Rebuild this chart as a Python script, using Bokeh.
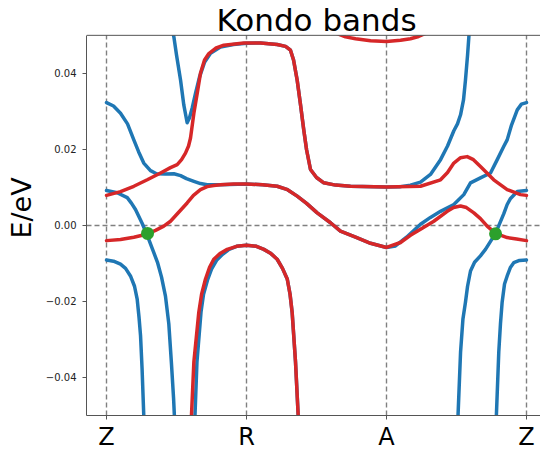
from bokeh.plotting import figure
from bokeh.models import FixedTicker, Label, Range1d, BoxAnnotation, Span
from bokeh.embed import file_html
from bokeh.resources import INLINE

# ---- data (k-path coordinate, energy in eV) ----
x_ticks = [0, 1, 2, 3]
x_tick_labels = ["Z", "R", "A", "Z"]
y_ticks = [-0.04, -0.02, 0.0, 0.02, 0.04]
y_tick_labels = ["\u22120.04", "\u22120.02", "0.00", "0.02", "0.04"]
e_min, e_max = -0.05, 0.05

# blue band: Z(0.032) -> R -> A -> Z(0.032)
blue1_k = [0, 0.05, 0.1, 0.15, 0.195, 0.229, 0.266, 0.314, 0.357, 0.421, 0.481, 0.529, 0.571, 0.624,
           0.671, 0.719, 0.814, 1.0, 1.114, 1.219, 1.293, 1.362, 1.429, 1.505, 1.6, 1.671, 1.779, 1.886,
           2.0, 2.064, 2.143, 2.243, 2.314, 2.386, 2.481, 2.552, 2.6, 2.671, 2.743, 2.791, 2.838, 2.862,
           2.893, 2.934, 2.964, 3.0]
blue1_e = [0.0323, 0.0314, 0.0295, 0.0267, 0.0225, 0.0194, 0.0164, 0.0144, 0.0136, 0.0135, 0.0136,
           0.0131, 0.0123, 0.0116, 0.0110, 0.0107, 0.0107, 0.0109, 0.0107, 0.0103, 0.0094, 0.0077,
           0.0058, 0.0033, 0.0007, -0.0015, -0.0031, -0.0047, -0.0058, -0.0054, -0.0031, 0.0003,
           0.0021, 0.0037, 0.0055, 0.0081, 0.0112, 0.0125, 0.0138, 0.0173, 0.0208, 0.0225, 0.0264,
           0.0304, 0.0319, 0.0323]

# blue band: top-left dip -> R plateau -> flat -> rising near A-Z
blue2_k = [0.471, 0.481, 0.5, 0.529, 0.552, 0.576, 0.593, 0.612, 0.636, 0.664, 0.7, 0.743, 0.814,
           0.907, 1.0, 1.1, 1.219, 1.279, 1.314, 1.336, 1.362, 1.386, 1.409, 1.429, 1.457, 1.5, 1.552,
           1.636, 1.743, 2.0, 2.1, 2.171, 2.243, 2.314, 2.386, 2.436, 2.481, 2.507, 2.529, 2.55,
           2.564, 2.579, 2.589, 2.593]
blue2_e = [0.0513, 0.0496, 0.0448, 0.0382, 0.0317, 0.0270, 0.0283, 0.0309, 0.0348, 0.0390, 0.0429,
           0.0453, 0.0469, 0.0476, 0.0479, 0.0480, 0.0476, 0.0471, 0.0461, 0.0435, 0.0382, 0.0317,
           0.0251, 0.0199, 0.0147, 0.0126, 0.0112, 0.0106, 0.0103, 0.0101, 0.0102, 0.0106, 0.0114,
           0.0134, 0.0173, 0.0209, 0.0249, 0.0267, 0.0291, 0.0330, 0.0382, 0.0448, 0.0500, 0.0518]

# blue band from Z (0.009) falling through the Fermi level (left)
blue3_k = [0, 0.076, 0.148, 0.179, 0.207, 0.255, 0.291, 0.329, 0.364, 0.393, 0.421, 0.445, 0.464,
           0.479, 0.489]
blue3_e = [0.0092, 0.0086, 0.0073, 0.0058, 0.0042, 0.0005, -0.0026, -0.0063, -0.0097, -0.0136,
           -0.0186, -0.0259, -0.0364, -0.0455, -0.0534]

# blue band from Z (-0.009) falling (left)
blue4_k = [0, 0.05, 0.1, 0.136, 0.171, 0.2, 0.219, 0.232, 0.243, 0.254, 0.266, 0.27]
blue4_e = [-0.0091, -0.0094, -0.0102, -0.0113, -0.0133, -0.0160, -0.0194, -0.0241, -0.0290,
           -0.0377, -0.0499, -0.0534]

# blue band under the lower dome at R
blue5_k = [0.629, 0.632, 0.646, 0.675, 0.693, 0.721, 0.75, 0.786, 0.829, 0.871, 0.929, 1.0, 1.071,
           1.124, 1.171, 1.219, 1.257, 1.291, 1.311, 1.326, 1.35, 1.369, 1.371]
blue5_e = [-0.0534, -0.0499, -0.0359, -0.0228, -0.0181, -0.0144, -0.0115, -0.0092, -0.0076, -0.0064,
           -0.0055, -0.0052, -0.0055, -0.0063, -0.0073, -0.0089, -0.0113, -0.0141, -0.0181, -0.0229,
           -0.0359, -0.0499, -0.0534]

# blue band rising to Z (0.009) through the Fermi level (right)
blue6_k = [2.509, 2.511, 2.529, 2.546, 2.564, 2.579, 2.6, 2.629, 2.671, 2.707, 2.743, 2.779, 2.814,
           2.838, 2.862, 2.886, 2.934, 3.0]
blue6_e = [-0.0534, -0.0499, -0.0333, -0.0246, -0.0202, -0.0160, -0.0120, -0.0097, -0.0080, -0.0063,
           -0.0042, -0.0021, 0.0010, 0.0031, 0.0055, 0.0071, 0.0089, 0.0092]

# blue band rising to Z (-0.009) (right)
blue7_k = [2.784, 2.785, 2.802, 2.814, 2.826, 2.843, 2.862, 2.886, 2.909, 2.95, 3.0]
blue7_e = [-0.0534, -0.0499, -0.0333, -0.0259, -0.0202, -0.0154, -0.0133, -0.0110, -0.0098, -0.0092,
           -0.0091]

# red band: Z(0.008) -> R plateau -> A flat -> bump -> Z
red1_k = [0, 0.1, 0.195, 0.291, 0.386, 0.457, 0.505, 0.536, 0.564, 0.586, 0.6, 0.624, 0.648, 0.671,
          0.7, 0.731, 0.779, 0.838, 0.981, 1.1, 1.219, 1.279, 1.314, 1.336, 1.362, 1.386, 1.409,
          1.429, 1.457, 1.5, 1.552, 1.636, 1.743, 2.0, 2.243, 2.386, 2.436, 2.481, 2.529, 2.576,
          2.621, 2.671, 2.766, 2.862, 2.957, 3.0]
red1_e = [0.0079, 0.0089, 0.0103, 0.0120, 0.0138, 0.0152, 0.0160, 0.0173, 0.0190, 0.0209, 0.0230,
          0.0295, 0.0348, 0.0400, 0.0435, 0.0452, 0.0466, 0.0474, 0.0480, 0.0480, 0.0476, 0.0471,
          0.0461, 0.0435, 0.0382, 0.0317, 0.0251, 0.0199, 0.0147, 0.0126, 0.0112, 0.0106, 0.0103,
          0.0101, 0.0103, 0.0120, 0.0139, 0.0164, 0.0178, 0.0181, 0.0173, 0.0155, 0.0120, 0.0094,
          0.0081, 0.0079]

# red band: Z(-0.004) -> R (0.011) -> A (-0.006) -> bump -> Z(-0.004)
red2_k = [0, 0.1, 0.195, 0.279, 0.35, 0.409, 0.457, 0.514, 0.576, 0.621, 0.671, 0.719, 0.766, 0.814,
          0.907, 1.0, 1.114, 1.219, 1.293, 1.362, 1.429, 1.505, 1.6, 1.671, 1.779, 1.886, 2.0, 2.1,
          2.171, 2.243, 2.338, 2.434, 2.479, 2.529, 2.571, 2.624, 2.671, 2.719, 2.779, 2.862, 2.929,
          3.0]
red2_e = [-0.0040, -0.0037, -0.0031, -0.0024, -0.0013, -0.0002, 0.0011, 0.0034, 0.0059, 0.0079,
          0.0094, 0.0102, 0.0105, 0.0107, 0.0109, 0.0109, 0.0107, 0.0103, 0.0094, 0.0077, 0.0058,
          0.0033, 0.0007, -0.0015, -0.0031, -0.0047, -0.0058, -0.0045, -0.0026, -0.0010, 0.0011,
          0.0037, 0.0047, 0.0051, 0.0047, 0.0033, 0.0018, -0.0002, -0.0021, -0.0032, -0.0036,
          -0.0040]

# red lower dome at R
red3_k = [0.604, 0.607, 0.624, 0.659, 0.679, 0.707, 0.736, 0.766, 0.814, 0.862, 0.929, 1.0, 1.071,
          1.124, 1.171, 1.219, 1.257, 1.291, 1.311, 1.326, 1.35, 1.369, 1.371]
red3_e = [-0.0534, -0.0499, -0.0359, -0.0229, -0.0181, -0.0141, -0.0110, -0.0089, -0.0073, -0.0063,
          -0.0055, -0.0052, -0.0055, -0.0063, -0.0073, -0.0089, -0.0113, -0.0141, -0.0181, -0.0229,
          -0.0359, -0.0499, -0.0534]

# red upper arc at A
red4_k = [1.643, 1.707, 1.779, 1.886, 2.0, 2.1, 2.171, 2.229, 2.279]
red4_e = [0.0505, 0.0496, 0.0491, 0.0486, 0.0484, 0.0487, 0.0491, 0.0497, 0.0505]

# crossing points at the Fermi level
cross_k = [0.293, 2.779]
cross_e = [-0.0021, -0.0022]

BLUE = "#1f77b4"
RED = "#d62728"
GREEN = "#2ca02c"
FONT = "DejaVu Sans"
SPINE = "#555555"

# the frame reaches the top of the page; the band window ends at e_max, title sits above it
TOP_PAD = 35 / 3820.0
p = figure(width=540, height=453, output_backend="svg", toolbar_location=None,
           x_range=Range1d(-0.143, 3.1), y_range=Range1d(e_min, e_max + TOP_PAD),
           min_border_left=86, min_border_right=0, min_border_top=0, min_border_bottom=36)
p.outline_line_color = None
p.background_fill_color = "white"
p.border_fill_color = "white"

# axes
xa = p.xaxis[0]
xa.ticker = FixedTicker(ticks=x_ticks)
xa.major_label_overrides = dict(zip(x_ticks, x_tick_labels))
xa.major_label_text_font = FONT
xa.major_label_text_font_size = "24px"
xa.major_label_text_color = "black"
xa.major_label_standoff = 3
xa.major_tick_in = 0
xa.major_tick_out = 4
xa.minor_tick_line_color = None
xa.axis_line_color = SPINE
xa.major_tick_line_color = SPINE

ya = p.yaxis[0]
ya.bounds = (e_min, e_max)
ya.ticker = FixedTicker(ticks=y_ticks)
ya.major_label_overrides = dict(zip(y_ticks, y_tick_labels))
ya.major_label_text_font = FONT
ya.major_label_text_font_size = "10px"
ya.major_label_text_color = "#222222"
ya.major_label_standoff = 6
ya.major_tick_in = 0
ya.major_tick_out = 4
ya.minor_tick_line_color = None
ya.axis_line_color = SPINE
ya.major_tick_line_color = SPINE
ya.axis_label = "E/eV"
ya.axis_label_text_font = FONT
ya.axis_label_text_font_size = "27px"
ya.axis_label_text_font_style = "normal"
ya.axis_label_text_color = "black"
ya.axis_label_standoff = 6

# dashed guide lines
p.xgrid.grid_line_color = "#808080"
p.xgrid.grid_line_dash = "5 3"
p.xgrid.grid_line_width = 1.4
p.ygrid.ticker = FixedTicker(ticks=[0.0])
p.ygrid.grid_line_color = "#808080"
p.ygrid.grid_line_dash = "5 3"
p.ygrid.grid_line_width = 1.4

LW = 3.5
for k, e in [(blue1_k, blue1_e), (blue2_k, blue2_e), (blue3_k, blue3_e), (blue4_k, blue4_e),
             (blue5_k, blue5_e), (blue6_k, blue6_e), (blue7_k, blue7_e)]:
    p.line(k, e, line_color=BLUE, line_width=LW, line_join="round", line_cap="round")
for k, e in [(red1_k, red1_e), (red2_k, red2_e), (red3_k, red3_e), (red4_k, red4_e)]:
    p.line(k, e, line_color=RED, line_width=LW, line_join="round", line_cap="round")

p.scatter(cross_k, cross_e, size=13, color=GREEN, line_color=None)

# blank the strip above the energy window (acts as the top of the axes box)
p.add_layout(BoxAnnotation(bottom=e_max, fill_color="white", fill_alpha=1.0, line_color=None))
p.add_layout(Span(location=e_max, dimension="width", line_color=SPINE, line_width=1))

title = Label(x=1.5, y=0.0541, text="Kondo bands", text_align="center",
              text_baseline="alphabetic", text_font=FONT, text_font_size="31px",
              text_color="black")
p.add_layout(title)

open("out.html", "w").write(file_html(p, INLINE))
